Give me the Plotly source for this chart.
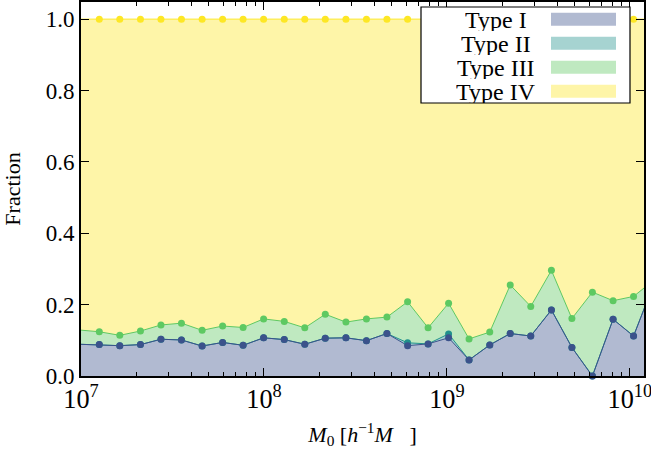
import plotly.graph_objects as go

# Halo mass bins (h^-1 Msun)
mass = [9.72e6, 1.259e7, 1.629e7, 2.113e7, 2.735e7, 3.540e7, 4.592e7, 5.943e7,
        7.691e7, 9.954e7, 1.291e8, 1.671e8, 2.163e8, 2.805e8, 3.631e8, 4.699e8,
        6.095e8, 7.889e8, 1.021e9, 1.321e9, 1.714e9, 2.218e9, 2.871e9, 3.724e9,
        4.819e9, 6.237e9, 8.091e9, 1.047e10, 1.355e10]

type1 = [0.089, 0.088, 0.085, 0.088, 0.103, 0.101, 0.084, 0.094, 0.086, 0.107,
         0.102, 0.089, 0.106, 0.107, 0.099, 0.119, 0.085, 0.090, 0.107, 0.045,
         0.087, 0.119, 0.112, 0.185, 0.080, 0.000, 0.159, 0.112, 0.260]
type2 = [0.000, 0.000, 0.000, 0.000, 0.000, 0.000, 0.000, 0.000, 0.000, 0.000,
         0.000, 0.000, 0.000, 0.000, 0.000, 0.000, 0.008, 0.000, 0.011, 0.000,
         0.000, 0.000, 0.000, 0.000, 0.000, 0.000, 0.000, 0.000, 0.000]
type3 = [0.040, 0.036, 0.029, 0.038, 0.040, 0.047, 0.044, 0.046, 0.050, 0.053,
         0.051, 0.046, 0.067, 0.044, 0.061, 0.046, 0.115, 0.045, 0.086, 0.059,
         0.036, 0.136, 0.083, 0.111, 0.081, 0.235, 0.052, 0.111, 0.009]
type4 = [0.871, 0.876, 0.886, 0.874, 0.857, 0.852, 0.872, 0.860, 0.864, 0.840,
         0.847, 0.865, 0.827, 0.849, 0.840, 0.835, 0.792, 0.865, 0.796, 0.896,
         0.877, 0.745, 0.805, 0.704, 0.839, 0.765, 0.789, 0.777, 0.731]

names = ["Type I", "Type II", "Type III", "Type IV"]
y_ticks = [0.0, 0.2, 0.4, 0.6, 0.8, 1.0]

line_colors = ["#3b528b", "#21918c", "#5ec962", "#fde725"]
fill_colors = ["rgba(59,82,139,0.4)", "rgba(33,145,140,0.4)",
               "rgba(94,201,98,0.4)", "rgba(253,231,37,0.4)"]

series = [type1, type2, type3, type4]
FONT = "Liberation Serif, Times New Roman, serif"

fig = go.Figure()

# stacked filled areas
for name, ys, fc in zip(names, series, fill_colors):
    fig.add_trace(go.Scatter(x=mass, y=ys, stackgroup="frac", mode="none",
                             fillcolor=fc, name=name, showlegend=False,
                             hoverinfo="skip"))

# cumulative boundaries
cum = []
running = [0.0] * len(mass)
for ys in series:
    running = [r + v for r, v in zip(running, ys)]
    cum.append(running)

for i in [3, 2, 1, 0]:
    fig.add_trace(go.Scatter(x=mass, y=cum[i], mode="lines",
                             line=dict(color=line_colors[i], width=1),
                             showlegend=False, hoverinfo="skip"))
for i in [3, 2, 1, 0]:
    fig.add_trace(go.Scatter(x=mass[1:-1], y=cum[i][1:-1], mode="markers",
                             marker=dict(size=7, color=line_colors[i]),
                             cliponaxis=False, showlegend=False))

# custom legend (text left, swatch right, boxed)
def px_x(p):
    return (p - 81) / 563.0

def px_y(p):
    return (376 - p) / 374.0

fig.add_shape(type="rect", xref="paper", yref="paper",
              x0=px_x(421), x1=px_x(630), y0=px_y(103), y1=px_y(7),
              line=dict(color="black", width=1.2), fillcolor="white", layer="above")
row_centers = [19.3, 43.3, 67.3, 91.3]
for name, fc, rc in zip(names, fill_colors, row_centers):
    fig.add_shape(type="rect", xref="paper", yref="paper",
                  x0=px_x(551), x1=px_x(616), y0=px_y(rc + 6.5), y1=px_y(rc - 6.5),
                  line=dict(width=0), fillcolor=fc, layer="above")
    fig.add_annotation(xref="paper", yref="paper", x=px_x(496), y=px_y(rc),
                       text=name, showarrow=False, xanchor="center", yanchor="middle",
                       height=23, borderpad=0,
                       font=dict(family=FONT, size=24, color="black"))

axis_common = dict(showline=True, linecolor="black", linewidth=2, mirror="ticks",
                   ticks="inside", ticklen=8, tickwidth=1, tickcolor="black",
                   showgrid=False, zeroline=False, ticklabeloverflow="allow")

fig.update_xaxes(type="log", range=[7, 10.077], dtick=1, exponentformat="power",
                 tickfont=dict(family=FONT, size=21, color="black"),
                 minor=dict(ticks="inside", ticklen=4, tickwidth=1, tickcolor="black",
                            dtick="D1", showgrid=False),
                 title=dict(text="<i>M</i><sub>0</sub> [<i>h</i><sup>\u22121</sup><i>M</i>\u00a0\u00a0\u00a0]",
                            font=dict(family=FONT, size=22, color="black"), standoff=13),
                 **axis_common)
fig.update_yaxes(range=[0, 1.048], tickvals=y_ticks, tickformat=".1f",
                 tickfont=dict(family=FONT, size=23, color="black"),
                 title=dict(text="Fraction", font=dict(family=FONT, size=22, color="black"),
                            standoff=20),
                 **axis_common)

fig.update_layout(width=651, height=456,
                  margin=dict(l=81, r=7, t=2, b=80, autoexpand=False),
                  plot_bgcolor="white", paper_bgcolor="white",
                  font=dict(family=FONT, color="black"))

fig.write_html("out.html", config={"displayModeBar": False},
               post_script="document.body.style.margin='0px';")
